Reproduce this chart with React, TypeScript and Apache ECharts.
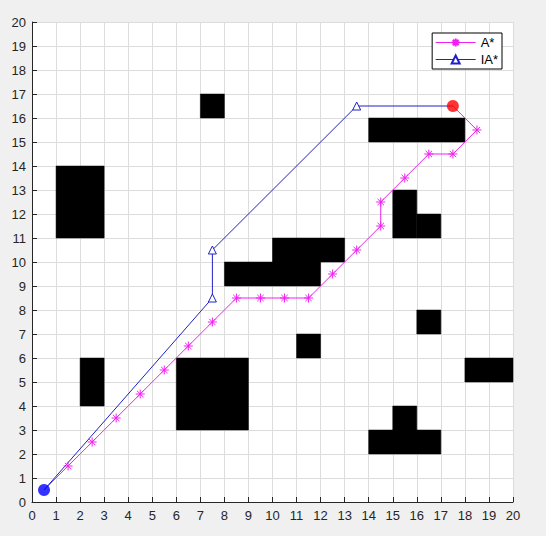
import React, { useEffect, useRef } from "react";
import * as echarts from "echarts";

// Obstacles as [x, y, width, height] in grid units
const obstacles: number[][] = [
  [7, 16, 1, 1],
  [14, 15, 4, 1],
  [1, 11, 2, 3],
  [15, 11, 1, 2],
  [16, 11, 1, 1],
  [10, 10, 3, 1],
  [8, 9, 4, 1],
  [11, 6, 1, 1],
  [16, 7, 1, 1],
  [18, 5, 2, 1],
  [2, 4, 1, 2],
  [6, 3, 3, 3],
  [14, 2, 3, 1],
  [15, 3, 1, 1],
];

const aStarPath: number[][] = [
  [0.5, 0.5], [1.5, 1.5], [2.5, 2.5], [3.5, 3.5], [4.5, 4.5], [5.5, 5.5],
  [6.5, 6.5], [7.5, 7.5], [8.5, 8.5], [9.5, 8.5], [10.5, 8.5], [11.5, 8.5],
  [12.5, 9.5], [13.5, 10.5], [14.5, 11.5], [14.5, 12.5], [15.5, 13.5],
  [16.5, 14.5], [17.5, 14.5], [18.5, 15.5], [17.5, 16.5],
];

const iaStarPath: number[][] = [
  [0.5, 0.5], [7.5, 8.5], [7.5, 10.5], [13.5, 16.5], [17.5, 16.5],
];

const startPoint = [0.5, 0.5];
const goalPoint = [17.5, 16.5];

const ASTERISK =
  "path://M0,-5L0,5M-5,0L5,0M-3.54,-3.54L3.54,3.54M-3.54,3.54L3.54,-3.54";

const hideEnds = (pts: number[][]) =>
  pts.map((p, i) =>
    i === 0 || i === pts.length - 1 ? { value: p, symbol: "none" } : { value: p }
  );

const MAGENTA = "#f020f0";
const BLUE = "#2020c8";

export default function App() {
  const ref = useRef<HTMLDivElement>(null);
  useEffect(() => {
    document.body.style.margin = "0";
    const chart = echarts.init(ref.current!, null, { renderer: "svg" });
    const axisCommon = {
      type: "value" as const,
      min: 0,
      max: 20,
      interval: 1,
      axisLine: { show: true, onZero: false, lineStyle: { color: "#262626", width: 1 } },
      axisTick: { show: true, inside: true, length: 5, lineStyle: { color: "#262626" } },
      splitLine: { show: true, lineStyle: { color: "#dcdcdc", width: 1 } },
      axisLabel: {
        color: "#262626",
        fontSize: 13,
        fontFamily: "Liberation Sans, Arial, sans-serif",
      },
    };
    chart.setOption({
      animation: false,
      backgroundColor: "#f0f0f0",
      grid: { left: 32, right: 33, top: 22, bottom: 34, show: true, backgroundColor: "#ffffff", borderWidth: 0 },
      xAxis: { ...axisCommon, axisLabel: { ...axisCommon.axisLabel, margin: 7 } },
      yAxis: { ...axisCommon, axisLabel: { ...axisCommon.axisLabel, margin: 6 } },
      legend: {
        data: ["A*", "IA*"],
        orient: "vertical",
        right: 44,
        top: 33,
        backgroundColor: "#ffffff",
        borderColor: "#000000",
        borderWidth: 1,
        borderRadius: 0,
        padding: [3, 4, 3, 3],
        itemGap: 4,
        itemWidth: 40,
        itemHeight: 10,
        lineStyle: { width: 1 },
        textStyle: { fontSize: 13, color: "#000", fontFamily: "Liberation Sans, Arial, sans-serif" },
      },
      series: [
        {
          type: "custom",
          name: "obstacles",
          data: obstacles,
          renderItem: (params: any, api: any) => {
            const x = api.value(0), y = api.value(1), w = api.value(2), h = api.value(3);
            const p0 = api.coord([x, y + h]);
            const p1 = api.coord([x + w, y]);
            return {
              type: "rect",
              shape: { x: p0[0], y: p0[1], width: p1[0] - p0[0], height: p1[1] - p0[1] },
              style: { fill: "#000000", stroke: "#000000", lineWidth: 0.5 },
            };
          },
          z: 1,
        },
        {
          type: "line",
          name: "A*",
          data: hideEnds(aStarPath),
          symbol: ASTERISK,
          symbolSize: 9,
          showAllSymbol: true,
          lineStyle: { color: MAGENTA, width: 1 },
          itemStyle: { color: MAGENTA, borderColor: MAGENTA, borderWidth: 1 },
          z: 3,
        },
        {
          type: "line",
          name: "IA*",
          data: hideEnds(iaStarPath),
          symbol: "triangle",
          symbolSize: 8,
          showAllSymbol: true,
          lineStyle: { color: BLUE, width: 1 },
          itemStyle: { color: "#ffffff", borderColor: BLUE, borderWidth: 1 },
          z: 3,
        },
        {
          type: "scatter",
          name: "start",
          data: [startPoint],
          symbol: "circle",
          symbolSize: 12,
          itemStyle: { color: "#0000ff" },
          z: 10,
        },
        {
          type: "scatter",
          name: "goal",
          data: [goalPoint],
          symbol: "circle",
          symbolSize: 12,
          itemStyle: { color: "#ff0000" },
          z: 10,
        },
      ],
    });
    return () => chart.dispose();
  }, []);
  return <div ref={ref} style={{ width: 546, height: 536, background: "#f0f0f0" }} />;
}
